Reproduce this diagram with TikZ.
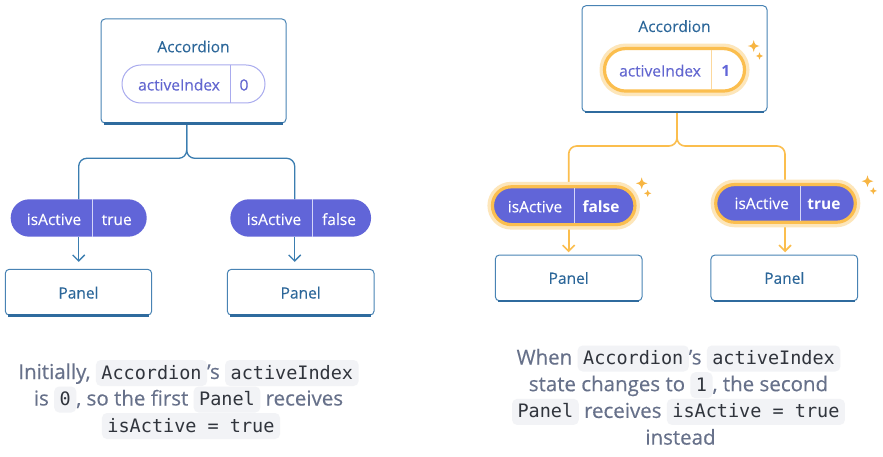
\documentclass[tikz,border=0pt]{standalone}
\usepackage{fontspec}
\setmainfont{Open Sans}
\setmonofont{DejaVu Sans Mono}
\newfontfamily\capfont{Open Sans}[FakeBold=0.35]
\newfontfamily\lblfont{Open Sans}[FakeBold=0.2]
\usetikzlibrary{arrows.meta,backgrounds}
\definecolor{boxc}{HTML}{4883B4}
\definecolor{boxdark}{HTML}{2F6B9E}
\definecolor{labc}{HTML}{2B6699}
\definecolor{conc}{HTML}{3B7DB0}
\definecolor{pillc}{HTML}{6165D8}
\definecolor{lightp}{HTML}{A9ABEE}
\definecolor{ptxt}{HTML}{6266D0}
\definecolor{divc}{HTML}{D4D5F8}
\definecolor{orc}{HTML}{FBBE4E}
\definecolor{glowc}{HTML}{FDE6BA}
\definecolor{odiv}{HTML}{FCD89C}
\definecolor{sparkc}{HTML}{F7B542}
\definecolor{capc}{HTML}{67718A}
\definecolor{codebg}{HTML}{F2F3F6}
\definecolor{codec}{HTML}{30343C}
\tikzset{
  box/.style={draw=boxc, line width=1, rounded corners=4, fill=white, inner sep=0},
  lbl/.style={text=labc, font=\lblfont\fontsize{15.5}{18}\selectfont, inner sep=0, anchor=base},
  ptext/.style={text=ptxt, font=\lblfont\fontsize{15.5}{18}\selectfont, inner sep=0, anchor=base},
  wtext/.style={text=white, font=\lblfont\fontsize{15.5}{18}\selectfont, inner sep=0, anchor=base},
  wpill/.style={draw=lightp, line width=1, fill=white, inner sep=0, rounded corners=18.9},
  ipill/.style={fill=pillc, draw=none, inner sep=0, rounded corners=18.6},
  opill/.style={fill=pillc, draw=orc, line width=3.2, inner sep=0, rounded corners=18.8,
     preaction={draw=glowc, line width=10}},
  conL/.style={draw=conc, line width=1.3, rounded corners=8},
  conR/.style={draw=orc, line width=1.6, rounded corners=8},
  arrL/.style={draw=conc, line width=1.3, -{Straight Barb[length=6,width=12]}},
  arrR/.style={draw=orc, line width=1.6, -{Straight Barb[length=6,width=12]}},
  caption/.style={anchor=base, text=capc, font=\capfont\fontsize{20.5}{27}\selectfont, inner sep=0},
  codebox/.style={fill=codebg, draw=none, rounded corners=5, inner xsep=5.5, inner ysep=4,
     text height=15, text depth=3, anchor=center, text=codec,
     font=\fontsize{18.5}{20}\ttfamily, minimum width=0, minimum height=0}
}
\newcommand\cd[1]{\tikz[baseline=(cdb.base)]\node[codebox](cdb){#1};}
\newcommand\spark[3]{%
  \fill[sparkc] (#1,#2-#3) .. controls (#1+0.22*#3,#2-0.22*#3) .. (#1+#3,#2)
    .. controls (#1+0.22*#3,#2+0.22*#3) .. (#1,#2+#3)
    .. controls (#1-0.22*#3,#2+0.22*#3) .. (#1-#3,#2)
    .. controls (#1-0.22*#3,#2-0.22*#3) .. cycle;}
\newcommand\bedge[1]{\draw[boxdark, line width=2.2] ([xshift=3.5]#1.south west) -- ([xshift=-3.5]#1.south east);}
\begin{document}
\begin{tikzpicture}[x=1pt,y=-1pt]
\useasboundingbox (0,0) rectangle (883,457);

% ---------------- left diagram ----------------
\node[box, minimum width=185, minimum height=104] (accL) at (193.5,71) {};
\bedge{accL}
\node[lbl] (accLt) at (193.5,52.3) {Accordion};
\node[wpill, minimum width=143, minimum height=38] (aiL) at (193.5,84) {};
\draw[lightp, line width=1] (230,65) -- (230,103);
\node[ptext] (aiLk) at (179,90.5) {activeIndex};
\node[ptext] (aiLv) at (244,90.5) {0};

\node[ipill, minimum width=136, minimum height=37.4] (pL1) at (78.7,218) {};
\draw[divc, line width=1] (92.3,199.3) -- (92.3,236.7);
\node[wtext] (pL1k) at (54,225) {isActive};
\node[wtext] (pL1v) at (116.7,225) {true};

\node[ipill, minimum width=140.7, minimum height=37.4] (pL2) at (300.7,218) {};
\draw[divc, line width=1] (312.3,199.3) -- (312.3,236.7);
\node[wtext] (pL2k) at (274,225) {isActive};
\node[wtext] (pL2v) at (339,225) {false};

\node[box, minimum width=146.4, minimum height=45.7] (panL1) at (78.5,292.2) {};
\bedge{panL1}
\node[lbl] (panL1t) at (78.5,298.5) {Panel};
\node[box, minimum width=146.7, minimum height=45.7] (panL2) at (300.7,292.2) {};
\bedge{panL2}
\node[lbl] (panL2t) at (300.7,298.5) {Panel};

\coordinate (fL) at (186.7,158.3);
\coordinate (bL1) at (78.7,199.3);
\coordinate (bL2) at (294.7,199.3);

% ---------------- right diagram ----------------
\node[box, minimum width=185, minimum height=106] (accR) at (674.5,58.7) {};
\bedge{accR}
\node[lbl] (accRt) at (674.5,32) {Accordion};
\node[opill, fill=white, minimum width=140, minimum height=42.5, rounded corners=21.1] (aiR) at (674.5,69.8) {};
\draw[odiv, line width=1] (711.7,50.3) -- (711.7,89.3);
\node[ptext] (aiRk) at (660,76.5) {activeIndex};
\node[ptext, font=\fontsize{15.5}{18}\selectfont\bfseries, text=pillc] (aiRv) at (725.7,76.5) {1};
\spark{753.7}{46}{5.8}
\spark{759.5}{56}{3.6}

\node[opill, minimum width=142.5, minimum height=37.8] (pR1) at (563.7,205.7) {};
\draw[divc, line width=1] (574.3,188.4) -- (574.3,223);
\node[wtext] (pR1k) at (535,212.3) {isActive};
\node[wtext, font=\fontsize{15.5}{18}\selectfont\bfseries] (pR1v) at (601,212.3) {false};
\spark{641.7}{183.3}{5.8}
\spark{647.7}{193.3}{3.6}

\node[opill, minimum width=139.6, minimum height=37.7] (pR2) at (785.5,203.4) {};
\draw[divc, line width=1] (800,186.1) -- (800,220.7);
\node[wtext] (pR2k) at (761.7,209) {isActive};
\node[wtext, font=\fontsize{15.5}{18}\selectfont\bfseries] (pR2v) at (824,209) {true};
\spark{867.5}{181.2}{5.8}
\spark{873.3}{190.9}{3.6}

\node[box, minimum width=146.7, minimum height=45.7] (panR1) at (568.7,277.9) {};
\bedge{panR1}
\node[lbl] (panR1t) at (568.7,283.8) {Panel};
\node[box, minimum width=146.7, minimum height=45.7] (panR2) at (784.3,277.9) {};
\bedge{panR2}
\node[lbl] (panR2t) at (784.3,283.8) {Panel};

\coordinate (fR) at (677,146);
\coordinate (bR1) at (568.7,187);
\coordinate (bR2) at (785,184);

% ---------------- connectors ----------------
\begin{pgfonlayer}{background}
\fill[white] (0,0) rectangle (883,457);
\draw[conL] (fL |- accL.south) -- (fL) -| (bL1);
\draw[conL] (fL |- accL.south) -- (fL) -| (bL2);
\draw[arrL, shorten >=7] (pL1.south) -- (pL1.south |- panL1.north);
\draw[arrL, shorten >=7] (bL2 |- pL2.south) -- (bL2 |- panL2.north);
\draw[conR] (fR |- accR.south) -- (fR) -| (bR1);
\draw[conR] (fR |- accR.south) -- (fR) -| (bR2);
\draw[arrR, shorten >=2.3] (bR1 |- pR1.south) -- (bR1 |- panR1.north);
\draw[arrR, shorten >=2.3] (bR2 |- pR2.south) -- (bR2 |- panR2.north);
\end{pgfonlayer}

% ---------------- captions ----------------
\node[caption] (capL1) at (188.5,379) {Initially, \cd{Accordion}’s \cd{activeIndex}};
\node[caption] (capL2) at (188.5,405.5) {is \cd{0}, so the first \cd{Panel} receives};
\node[caption] (capL3) at (191,432) {\cd{isActive = true}};

\node[caption] (capR1) at (678.5,364.5) {When \cd{Accordion}’s \cd{activeIndex}};
\node[caption] (capR2) at (678.5,391.2) {state changes to \cd{1}, the second};
\node[caption] (capR3) at (678.5,417.9) {\cd{Panel} receives \cd{isActive = true}};
\node[caption] (capR4) at (680.5,444.6) {instead};
\end{tikzpicture}
\end{document}
